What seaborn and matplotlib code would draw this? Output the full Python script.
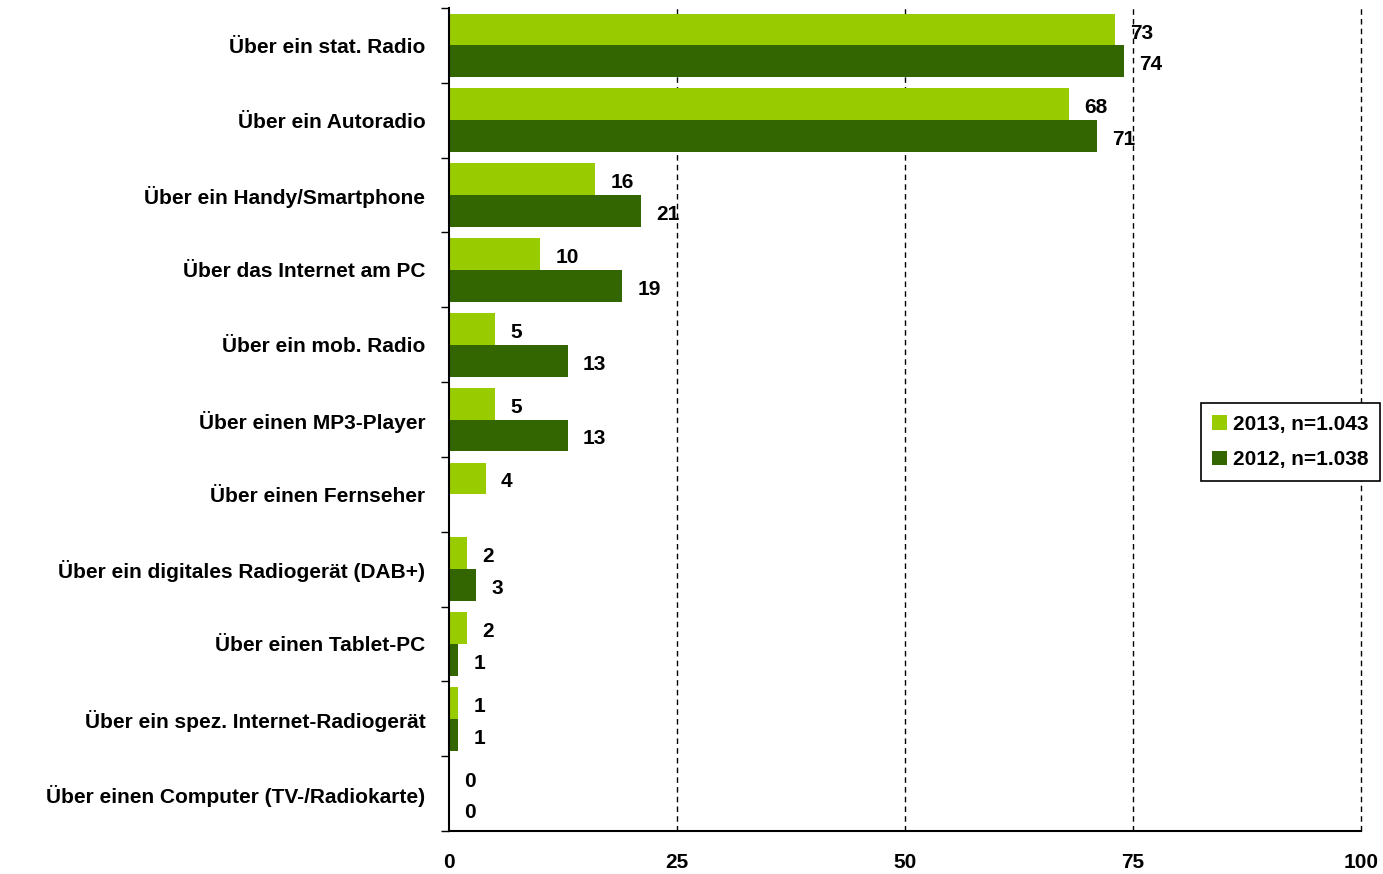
import numpy as np
import pandas as pd
import matplotlib
matplotlib.use("Agg")
import matplotlib.pyplot as plt
import seaborn as sns

# Data
categories = [
    "Über ein stat. Radio",
    "Über ein Autoradio",
    "Über ein Handy/Smartphone",
    "Über das Internet am PC",
    "Über ein mob. Radio",
    "Über einen MP3-Player",
    "Über einen Fernseher",
    "Über ein digitales Radiogerät (DAB+)",
    "Über einen Tablet-PC",
    "Über ein spez. Internet-Radiogerät",
    "Über einen Computer (TV-/Radiokarte)",
]
values_2013 = [73, 68, 16, 10, 5, 5, 4, 2, 2, 1, 0]
values_2012 = [74, 71, 21, 19, 13, 13, np.nan, 3, 1, 1, 0]
series_names = ["2013, n=1.043", "2012, n=1.038"]
x_ticks = [0, 25, 50, 75, 100]

light_green = "#99CC00"
dark_green = "#336600"

df = pd.DataFrame({
    "Kategorie": categories * 2,
    "Wert": values_2013 + values_2012,
    "Jahr": [series_names[0]] * len(categories) + [series_names[1]] * len(categories),
})

sns.set_theme(style="white")
plt.rcParams["font.family"] = ["Liberation Sans", "DejaVu Sans"]
plt.rcParams["font.weight"] = "bold"
plt.rcParams["text.color"] = "black"
plt.rcParams["xtick.color"] = "black"
plt.rcParams["ytick.color"] = "black"

fig = plt.figure(figsize=(13.83, 8.74), dpi=100)
ax = fig.add_axes([0.3247, 0.0492, 0.6594, 0.9416])

sns.barplot(data=df, y="Kategorie", x="Wert", hue="Jahr", orient="h",
            palette=[light_green, dark_green], width=0.85, saturation=1,
            linewidth=0, ax=ax)

# value labels next to the bars, slightly below bar centre like the original
for cont in ax.containers:
    labels = ["" if np.isnan(v) else f"{v:.0f}" for v in cont.datavalues]
    texts = ax.bar_label(cont, labels=labels, padding=11, fontsize=15,
                         fontweight="bold", color="black")
    for t in texts:
        t.xyann = (11, -2.5)

ax.set_xlim(0, 100)
ax.set_ylim(len(categories) - 0.5, -0.5)
ax.set_xticks(x_ticks)
ax.set_xticklabels([str(t) for t in x_ticks], fontsize=15, fontweight="bold")
ax.tick_params(axis="x", direction="out", length=6, width=1, color="black", pad=10)

ax.set_yticks(range(len(categories)))
ax.set_yticklabels(categories, fontsize=15, fontweight="bold")
ax.set_yticks(np.arange(-0.5, len(categories), 1), minor=True)
ax.tick_params(axis="y", which="major", length=0, pad=17)
ax.tick_params(axis="y", which="minor", direction="out", length=6, width=1,
               color="black", left=True)

ax.set_xlabel("")
ax.set_ylabel("")
for t in x_ticks[1:]:
    ax.axvline(t, color="black", linestyle=(0, (4, 3)), linewidth=1, zorder=0,
               clip_on=False)

for side in ["top", "right"]:
    ax.spines[side].set_visible(False)
for side in ["left", "bottom"]:
    ax.spines[side].set_color("black")
    ax.spines[side].set_linewidth(1.5)

leg = ax.legend(loc="center left", frameon=True, fancybox=False, edgecolor="black",
                framealpha=1, prop={"size": 15, "weight": "bold"},
                handlelength=0.7, handleheight=0.7, handletextpad=0.3,
                labelspacing=0.8, borderpad=0.55, borderaxespad=0)
leg.get_frame().set_linewidth(1.2)
leg.set_zorder(5)
leg.set_bbox_to_anchor((1201 / 1383, (874 - 442) / 874), transform=fig.transFigure)

fig.savefig("out.png", dpi=100)
